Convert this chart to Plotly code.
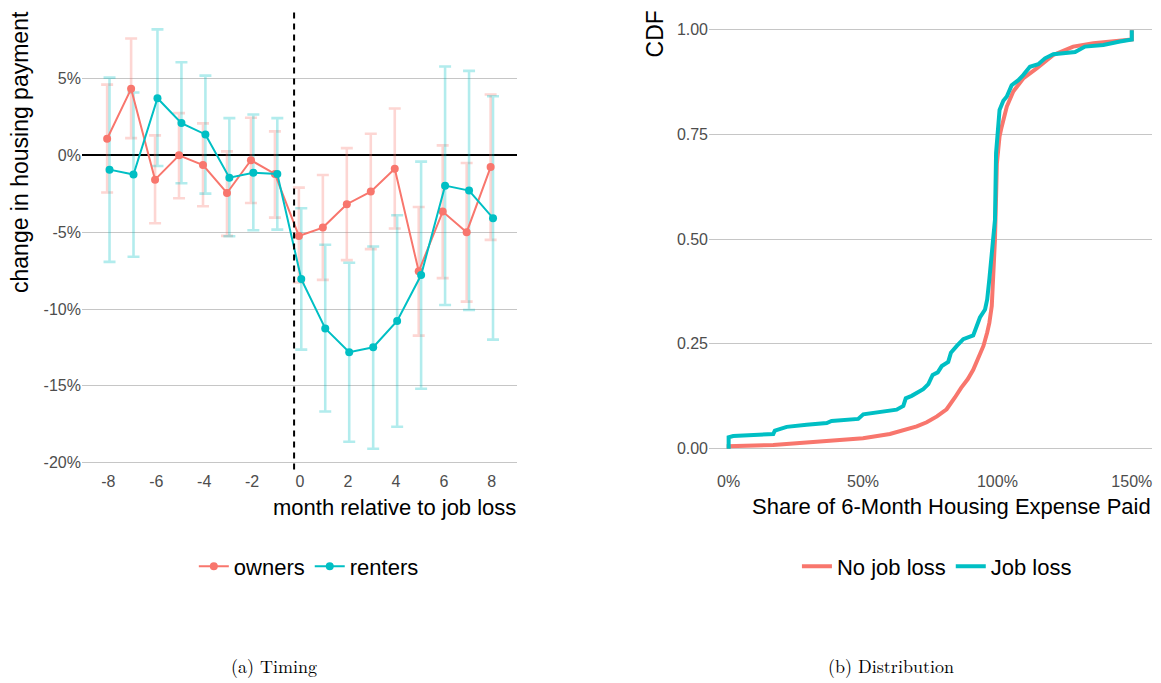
import plotly.graph_objects as go

# ---- Panel (a): change in housing payment around job loss ----
months = [-8, -7, -6, -5, -4, -3, -2, -1, 0, 1, 2, 3, 4, 5, 6, 7, 8]

owners_est = [1.08, 4.33, -1.58, 0.0, -0.63, -2.45, -0.32, -1.21, -5.24, -4.70, -3.18, -2.36, -0.87, -7.55, -3.66, -5.00, -0.76]
owners_hi = [4.60, 7.60, 1.30, 2.75, 2.08, 0.26, 2.45, 1.56, -2.10, -1.28, 0.47, 1.41, 3.05, -3.36, 0.65, -0.50, 3.96]
owners_lo = [-2.42, 1.12, -4.42, -2.79, -3.31, -5.24, -3.10, -4.05, -8.27, -8.10, -6.82, -6.10, -4.76, -11.73, -7.99, -9.52, -5.50]

renters_est = [-0.93, -1.25, 3.72, 2.10, 1.36, -1.45, -1.13, -1.21, -8.05, -11.26, -12.81, -12.49, -10.78, -7.79, -1.97, -2.29, -4.09]
renters_hi = [5.06, 4.09, 8.20, 6.06, 5.19, 2.42, 2.66, 2.42, -3.44, -5.82, -6.99, -5.93, -3.90, -0.41, 5.78, 5.50, 3.85]
renters_lo = [-6.93, -6.60, -0.69, -1.82, -2.49, -5.26, -4.87, -4.83, -12.64, -16.67, -18.64, -19.09, -17.66, -15.19, -9.74, -10.06, -11.99]

y_ticks = [5, 0, -5, -10, -15, -20]
y_ticktext = ["5%", "0%", "-5%", "-10%", "-15%", "-20%"]
x_ticks = [-8, -6, -4, -2, 0, 2, 4, 6, 8]
x_ticktext = ["-8", "-6", "-4", "-2", "0", "2", "4", "6", "8"]

# ---- Panel (b): CDF of share of 6-month housing expense paid ----
nojob_share = [0.0, 0.0, 0.166, 0.34, 0.50, 0.60, 0.65, 0.70, 0.737, 0.775, 0.811, 0.83, 0.842, 0.865,
               0.89, 0.91, 0.923, 0.937, 0.948, 0.962, 0.970, 0.979, 0.984, 0.987, 0.991, 0.995, 0.998,
               1.003, 1.008, 1.016, 1.035, 1.059, 1.096, 1.146, 1.208, 1.282, 1.357, 1.50, 1.50]
nojob_cdf = [0.0, 0.006, 0.009, 0.017, 0.025, 0.035, 0.043, 0.053, 0.063, 0.077, 0.094, 0.110, 0.122, 0.145,
             0.166, 0.188, 0.206, 0.225, 0.245, 0.277, 0.300, 0.340, 0.400, 0.435, 0.500, 0.600, 0.680,
             0.713, 0.745, 0.768, 0.816, 0.852, 0.883, 0.907, 0.939, 0.959, 0.967, 0.976, 0.998]

job_share = [0.0, 0.0, 0.017, 0.166, 0.172, 0.197, 0.216, 0.29, 0.365, 0.383, 0.482, 0.501, 0.538, 0.575, 0.625,
             0.65, 0.659, 0.681, 0.70, 0.724, 0.743, 0.759, 0.778, 0.793, 0.817, 0.827, 0.849, 0.873, 0.910,
             0.923, 0.935, 0.954, 0.962, 0.970, 0.979, 0.987, 0.991, 0.995, 1.008, 1.022, 1.035, 1.053, 1.078,
             1.096, 1.121, 1.152, 1.177, 1.208, 1.250, 1.289, 1.326, 1.394, 1.456, 1.50, 1.50]
job_cdf = [0.0, 0.027, 0.030, 0.035, 0.043, 0.047, 0.052, 0.057, 0.061, 0.066, 0.071, 0.082, 0.086, 0.090, 0.093,
           0.102, 0.120, 0.126, 0.134, 0.142, 0.154, 0.176, 0.182, 0.197, 0.207, 0.229, 0.245, 0.261, 0.270,
           0.293, 0.313, 0.332, 0.356, 0.404, 0.459, 0.523, 0.546, 0.705, 0.808, 0.830, 0.840, 0.867, 0.879,
           0.891, 0.911, 0.917, 0.931, 0.941, 0.944, 0.946, 0.959, 0.963, 0.971, 0.976, 0.998]

cdf_ticks = [0, 0.25, 0.5, 0.75, 1.0]
cdf_ticktext = ["0.00", "0.25", "0.50", "0.75", "1.00"]
share_ticks = [0, 0.5, 1.0, 1.5]
share_ticktext = ["0%", "50%", "100%", "150%"]

RED = "#F8766D"
TEAL = "#00BFC4"
RED_FADE = "rgba(248,118,109,0.3)"
TEAL_FADE = "rgba(0,191,196,0.3)"
SANS = "Liberation Sans Narrow, Arial Narrow, Liberation Sans, Arial, sans-serif"
GRID = "#C6C6C6"
TICK_FONT = dict(family=SANS, size=16, color="#4D4D4D")
DODGE = 0.05

fig = go.Figure()

owners_x = [m - DODGE for m in months]
renters_x = [m + DODGE for m in months]

# error bars first so the lines sit on top of them
for xs, est, hi, lo, col in [
    (owners_x, owners_est, owners_hi, owners_lo, RED_FADE),
    (renters_x, renters_est, renters_hi, renters_lo, TEAL_FADE),
]:
    fig.add_trace(go.Scatter(
        x=xs, y=est, mode="markers", marker=dict(size=1, opacity=0),
        error_y=dict(type="data", symmetric=False,
                     array=[h - e for h, e in zip(hi, est)],
                     arrayminus=[e - l for e, l in zip(est, lo)],
                     color=col, thickness=2.6, width=6),
        showlegend=False, hoverinfo="skip", xaxis="x", yaxis="y",
    ))

fig.add_trace(go.Scatter(
    x=owners_x, y=owners_est, mode="lines+markers", name="owners",
    line=dict(color=RED, width=2), marker=dict(color=RED, size=8),
    xaxis="x", yaxis="y", legend="legend",
))
fig.add_trace(go.Scatter(
    x=renters_x, y=renters_est, mode="lines+markers", name="renters",
    line=dict(color=TEAL, width=2), marker=dict(color=TEAL, size=8),
    xaxis="x", yaxis="y", legend="legend",
))

fig.add_trace(go.Scatter(
    x=nojob_share, y=nojob_cdf, mode="lines", name="No job loss",
    line=dict(color=RED, width=4), xaxis="x2", yaxis="y2", legend="legend2",
))
fig.add_trace(go.Scatter(
    x=job_share, y=job_cdf, mode="lines", name="Job loss",
    line=dict(color=TEAL, width=4), xaxis="x2", yaxis="y2", legend="legend2",
))

Y_DOM = [0.3104, 0.9876]

fig.update_layout(
    width=1161, height=683,
    margin=dict(l=0, r=0, t=0, b=0),
    paper_bgcolor="white", plot_bgcolor="white",
    font=dict(family=SANS, color="black"),
    xaxis=dict(domain=[0.0706, 0.4453], range=[-9.1, 9.05], tickvals=x_ticks, ticktext=x_ticktext,
               showgrid=False, zeroline=False, ticks="", tickfont=TICK_FONT,
               showline=False),
    yaxis=dict(domain=Y_DOM, range=[-20.45, 9.56], tickvals=y_ticks, ticktext=y_ticktext,
               showgrid=True, gridcolor=GRID, gridwidth=1.3,
               zeroline=True, zerolinecolor="black", zerolinewidth=2,
               ticks="", tickfont=TICK_FONT),
    xaxis2=dict(domain=[0.6107, 0.9922], range=[-0.073, 1.575], tickvals=share_ticks,
                ticktext=share_ticktext, showgrid=False, zeroline=False, ticks="",
                tickfont=TICK_FONT, anchor="y2"),
    yaxis2=dict(domain=Y_DOM, range=[-0.05, 1.05], tickvals=cdf_ticks, ticktext=cdf_ticktext,
                showgrid=True, gridcolor=GRID, gridwidth=1.3, zeroline=False, ticks="",
                tickfont=TICK_FONT, anchor="x2"),
    legend=dict(orientation="h", x=0.266, xanchor="center", y=1 - 568 / 683, yanchor="middle",
                font=dict(family=SANS, size=22, color="black"), itemwidth=30,
                bgcolor="rgba(0,0,0,0)"),
    legend2=dict(orientation="h", x=0.807, xanchor="center", y=1 - 568 / 683, yanchor="middle",
                 font=dict(family=SANS, size=22, color="black"), itemwidth=30,
                 bgcolor="rgba(0,0,0,0)"),
    showlegend=True,
)

# dashed marker for the month of job loss
fig.add_shape(type="line", xref="x", yref="y domain", x0=-0.25, x1=-0.25, y0=0, y1=1,
              line=dict(color="black", width=2, dash="6px,5px"))

# axis titles, aligned to the panel ends
fig.add_annotation(text="change in housing payment", xref="paper", yref="paper",
                   x=20 / 1161, y=1 - 9 / 683, xanchor="center", yanchor="top",
                   textangle=-90, showarrow=False, font=dict(family=SANS, size=23, color="black"))
fig.add_annotation(text="month relative to job loss", xref="paper", yref="paper",
                   x=518 / 1161, y=1 - 509 / 683, xanchor="right", yanchor="middle",
                   showarrow=False, font=dict(family=SANS, size=22, color="black"))
fig.add_annotation(text="CDF", xref="paper", yref="paper",
                   x=655 / 1161, y=1 - 9 / 683, xanchor="center", yanchor="top",
                   textangle=-90, showarrow=False, font=dict(family=SANS, size=23, color="black"))
fig.add_annotation(text="Share of 6-Month Housing Expense Paid", xref="paper", yref="paper",
                   x=1153 / 1161, y=1 - 508 / 683, xanchor="right", yanchor="middle",
                   showarrow=False, font=dict(family=SANS, size=22, color="black"))

# sub-figure captions
SERIF = "Latin Modern Roman, CMU Serif, Liberation Serif, serif"
fig.add_annotation(text="(a) Timing", xref="paper", yref="paper",
                   x=274 / 1161, y=1 - 667 / 683, xanchor="center", yanchor="middle",
                   showarrow=False, font=dict(family=SERIF, size=18, color="black"))
fig.add_annotation(text="(b) Distribution", xref="paper", yref="paper",
                   x=891 / 1161, y=1 - 667 / 683, xanchor="center", yanchor="middle",
                   showarrow=False, font=dict(family=SERIF, size=18, color="black"))

fig.write_html("out.html")
